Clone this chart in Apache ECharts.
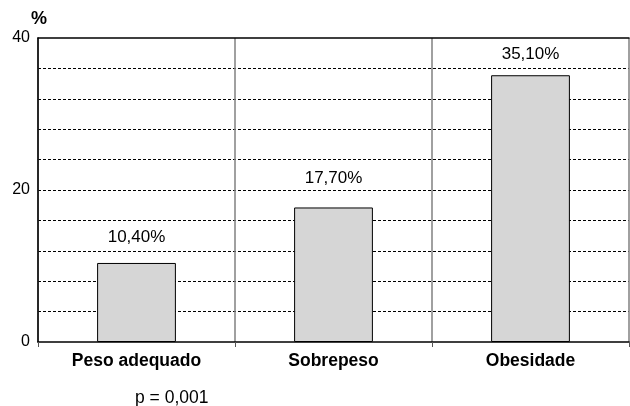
<!DOCTYPE html>
<html>
<head>
<meta charset="utf-8">
<script src="https://cdn.jsdelivr.net/npm/echarts@6/dist/echarts.min.js"></script>
<style>
  html, body { margin: 0; padding: 0; background: #fff; }
  #chart { width: 630px; height: 406px; }
</style>
</head>
<body>
<div id="chart"></div>
<script>
'use strict';

var categories = ['Peso adequado', 'Sobrepeso', 'Obesidade'];
var values = [10.4, 17.7, 35.1];
var yTickLabels = [0, 20, 40];

var font = 'Liberation Sans, Arial, Helvetica, sans-serif';
// label gap above each bar, as in the original figure
var labelGap = [17, 21, 12];

var myChart = echarts.init(document.getElementById('chart'));

var barData = values.map(function (v, i) {
  return { value: v, label: { distance: labelGap[i] } };
});

var option = {
  animation: false,
  backgroundColor: '#fff',
  grid: { left: 38, right: 1, top: 38, bottom: 64 },
  graphic: [
    { type: 'text', left: 31, top: 10,
      style: { text: '%', font: 'bold 18px ' + font, fill: '#000' } },
    { type: 'text', left: 135, top: 389,
      style: { text: 'p = 0,001', font: '17.5px ' + font, fill: '#000' } }
  ],
  xAxis: [{
    type: 'category',
    data: categories,
    boundaryGap: true,
    axisLine: { lineStyle: { color: '#000', width: 1.5 } },
    axisTick: { show: true, length: 5, lineStyle: { color: '#555' } },
    axisLabel: { color: '#000', fontFamily: font, fontSize: 17.5, fontWeight: 'bold', margin: 10 },
    splitLine: { show: true, lineStyle: { color: '#808080', width: 1.5 } }
  }, {
    type: 'category',
    position: 'top',
    data: categories,
    axisLine: { lineStyle: { color: '#000', width: 1.5 } },
    axisTick: { show: false },
    axisLabel: { show: false }
  }],
  yAxis: {
    type: 'value',
    min: 0,
    max: 40,
    interval: 4,
    axisLine: { show: true, lineStyle: { color: '#000', width: 1.5 } },
    axisTick: { show: false },
    axisLabel: {
      color: '#000', fontFamily: font, fontSize: 16, margin: 8,
      formatter: function (v) { return yTickLabels.indexOf(v) >= 0 ? String(v) : ''; }
    },
    splitLine: {
      show: true, showMinLine: false, showMaxLine: false,
      lineStyle: { color: '#000', type: [3, 2], width: 1 }
    }
  },
  series: [{
    type: 'bar',
    data: barData,
    barWidth: '40%',
    itemStyle: { color: '#d6d6d6', borderColor: '#000', borderWidth: 1 },
    label: {
      show: true,
      position: 'top',
      color: '#000',
      fontFamily: font,
      fontSize: 17,
      formatter: function (p) { return p.value.toFixed(2).replace('.', ',') + '%'; }
    }
  }]
};

myChart.setOption(option);
</script>
</body>
</html>
